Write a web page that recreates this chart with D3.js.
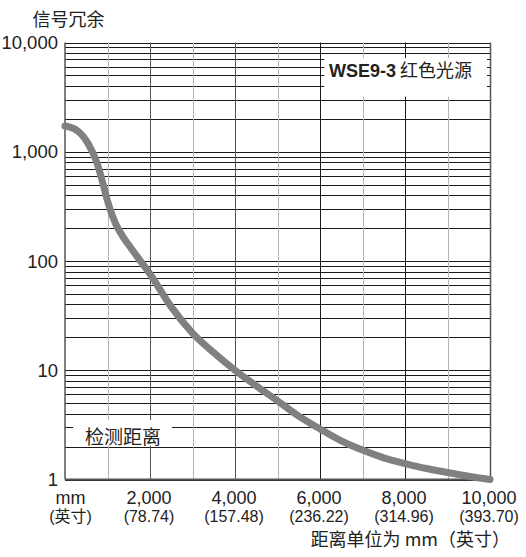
<!DOCTYPE html>
<html>
<head>
<meta charset="utf-8">
<script src="https://cdn.jsdelivr.net/npm/d3@7"></script>
<style>
  html, body { margin: 0; padding: 0; background: #fff; }
  svg { display: block; }
  text { font-family: "Liberation Sans", Arial, "Noto Sans CJK SC", sans-serif; fill: #222; }
  .cjk { font-family: "Noto Sans CJK SC", "Noto Sans", sans-serif; }
</style>
</head>
<body>
<svg id="chart" width="526" height="557"></svg>
<script>
// ---- data ----
const distanceMm = [0, 300, 550, 750, 900, 1000, 1100, 1200, 1350, 1500, 2000, 2500, 3000, 3500, 4000, 4500, 5000, 5500, 6000, 6500, 7000, 7500, 8000, 8500, 9000, 9500, 10000];
const signalMargin = [1720, 1550, 1175, 795, 501, 355, 269, 216, 170, 140, 76, 38, 21.9, 14.5, 10, 7.2, 5.25, 3.8, 2.9, 2.26, 1.86, 1.58, 1.40, 1.26, 1.16, 1.07, 1.0];
const xTicks = [2000, 4000, 6000, 8000, 10000];
const xTickLabels = ["2,000", "4,000", "6,000", "8,000", "10,000"];
const xInchLabels = ["(78.74)", "(157.48)", "(236.22)", "(314.96)", "(393.70)"];
const yTicks = [1, 10, 100, 1000, 10000];
const yTickLabels = ["1", "10", "100", "1,000", "10,000"];
const yAxisTitle = "信号冗余";
const xAxisTitle = "距离单位为 mm（英寸）";
const legendBold = "WSE9-3";
const legendText = " 红色光源";
const regionLabel = "检测距离";

// ---- layout ----
(function () {
const svg = d3.select("#chart");
const pL = 65, pR = 490, pT = 42.5, pB = 479.5;
const x = d3.scaleLinear().domain([0, 10000]).range([pL, pR]);
const y = d3.scaleLog().domain([1, 10000]).range([pB, pT]);

// horizontal grid (log)
const hLines = [];
for (let d = 1; d < 10000; d *= 10) for (let m = 1; m < 10; m++) hLines.push(d * m);
hLines.push(10000);
svg.append("g").selectAll("line").data(hLines).join("line")
  .attr("x1", pL).attr("x2", pR)
  .attr("y1", d => Math.round(y(d)) + 0.5).attr("y2", d => Math.round(y(d)) + 0.5)
  .attr("stroke", "#1a1a1a").attr("stroke-width", 1);

// vertical grid
const vLines = d3.range(1000, 10001, 1000);
svg.append("g").selectAll("line").data(vLines).join("line")
  .attr("x1", d => Math.round(x(d)) + 0.5).attr("x2", d => Math.round(x(d)) + 0.5)
  .attr("y1", pT).attr("y2", pB)
  .attr("stroke", d => d === 10000 ? "#555" : (d % 2000 === 0 ? (d <= 4000 ? "#555" : "#1a1a1a") : "#b4b4b4"))
  .attr("stroke-width", d => d === 10000 ? 1.5 : 1);

// frame: left + bottom
svg.append("line").attr("x1", pL).attr("x2", pL).attr("y1", pT).attr("y2", pB)
  .attr("stroke", "#555").attr("stroke-width", 1.5);
svg.append("line").attr("x1", pL).attr("x2", pR).attr("y1", pB).attr("y2", pB)
  .attr("stroke", "#555").attr("stroke-width", 2);

// legend box
const lg = svg.append("g");
lg.append("rect").attr("x", x(6100)).attr("y", y(7200)).attr("width", x(9930) - x(6100)).attr("height", y(3200) - y(7200))
  .attr("fill", "#fff");
const lt = lg.append("text").attr("x", x(6210)).attr("y", 76.5).style("font-size", "18px");
lt.append("tspan").text(legendBold).style("font-weight", "bold");
lt.append("tspan").text(legendText).style("font-family", "'Noto Sans CJK SC', sans-serif");

// region label box
svg.append("rect").attr("x", x(190)).attr("y", y(3.5)).attr("width", x(2520) - x(190)).attr("height", y(2.05) - y(3.5))
  .attr("fill", "#fff");
svg.append("text").attr("class", "cjk").attr("x", x(470)).attr("y", 443.5)
  .style("font-size", "19px").text(regionLabel);

// curve
const line = d3.line().x((d, i) => x(distanceMm[i])).y((d, i) => y(signalMargin[i])).curve(d3.curveMonotoneX);
svg.append("path").datum(distanceMm).attr("d", line)
  .attr("fill", "none").attr("stroke", "#808082").attr("stroke-width", 7)
  .attr("stroke-linecap", "round").attr("stroke-linejoin", "round");

// y labels
svg.append("g").selectAll("text").data(yTicks).join("text")
  .attr("x", 58).attr("y", d => y(d)).attr("dy", "0.36em")
  .attr("text-anchor", "end").style("font-size", "18.5px")
  .text((d, i) => yTickLabels[i]);

// x labels
svg.append("g").selectAll("text").data(xTicks).join("text")
  .attr("x", d => x(d) - 1).attr("y", 503.5).attr("text-anchor", "middle").style("font-size", "18px")
  .text((d, i) => xTickLabels[i]);
svg.append("g").selectAll("text").data(xTicks).join("text")
  .attr("x", d => x(d) - 1).attr("y", 521.5).attr("text-anchor", "middle").style("font-size", "16px")
  .text((d, i) => xInchLabels[i]);
svg.append("text").attr("x", x(0) + 5.5).attr("y", 503.5).attr("text-anchor", "middle").style("font-size", "18px").text("mm");
svg.append("text").attr("x", x(0) + 5.5).attr("y", 521.5).attr("text-anchor", "middle").style("font-size", "16px")
  .text("(英寸)");

// titles
svg.append("text").attr("class", "cjk").attr("transform", "translate(68.5,25.5)")
  .attr("text-anchor", "middle").style("font-size", "18px").text(yAxisTitle);
svg.append("text").attr("class", "cjk").attr("x", 510).attr("y", 545.5).attr("text-anchor", "end")
  .style("font-size", "18px").text(xAxisTitle);
})();
</script>
</body>
</html>
